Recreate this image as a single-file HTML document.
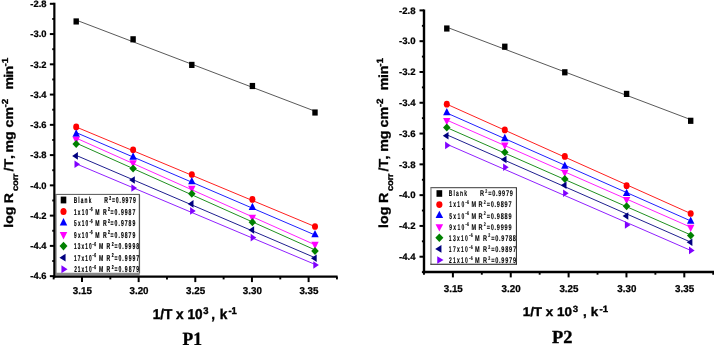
<!DOCTYPE html><html><head><meta charset="utf-8"><style>html,body{margin:0;padding:0;background:#fff}svg{display:block;will-change:transform}text{font-family:"Liberation Sans",sans-serif;font-weight:bold;fill:#000;text-rendering:geometricPrecision}.s{font-family:"Liberation Serif",serif}</style></head><body>
<svg width="714" height="345" viewBox="0 0 714 345">
<rect width="714" height="345" fill="#fff"/>
<line x1="76.20" y1="20.10" x2="315.00" y2="111.20" stroke="#222" stroke-width="0.75"/>
<rect x="73.50" y="18.37" width="5.40" height="6.16" fill="#000"/>
<rect x="130.40" y="36.22" width="5.40" height="6.16" fill="#000"/>
<rect x="189.10" y="61.82" width="5.40" height="6.16" fill="#000"/>
<rect x="249.70" y="82.92" width="5.40" height="6.16" fill="#000"/>
<rect x="312.30" y="109.42" width="5.40" height="6.16" fill="#000"/>
<line x1="76.20" y1="127.00" x2="315.00" y2="226.60" stroke="#ff0000" stroke-width="0.88"/>
<ellipse cx="76.20" cy="126.90" rx="3.00" ry="3.35" fill="#ff0000"/>
<ellipse cx="133.10" cy="149.80" rx="3.00" ry="3.35" fill="#ff0000"/>
<ellipse cx="191.80" cy="174.50" rx="3.00" ry="3.35" fill="#ff0000"/>
<ellipse cx="252.40" cy="199.40" rx="3.00" ry="3.35" fill="#ff0000"/>
<ellipse cx="315.00" cy="226.50" rx="3.00" ry="3.35" fill="#ff0000"/>
<line x1="76.20" y1="132.60" x2="315.00" y2="235.00" stroke="#0000ff" stroke-width="0.88"/>
<polygon points="76.20,129.35 79.90,136.65 72.50,136.65" fill="#0000ff"/>
<polygon points="133.10,152.35 136.80,159.65 129.40,159.65" fill="#0000ff"/>
<polygon points="191.80,176.95 195.50,184.25 188.10,184.25" fill="#0000ff"/>
<polygon points="252.40,202.75 256.10,210.05 248.70,210.05" fill="#0000ff"/>
<polygon points="315.00,230.05 318.70,237.35 311.30,237.35" fill="#0000ff"/>
<line x1="76.20" y1="138.10" x2="315.00" y2="244.80" stroke="#ff00ff" stroke-width="0.88"/>
<polygon points="76.20,144.15 79.90,136.85 72.50,136.85" fill="#ff00ff"/>
<polygon points="133.10,167.65 136.80,160.35 129.40,160.35" fill="#ff00ff"/>
<polygon points="191.80,193.15 195.50,185.85 188.10,185.85" fill="#ff00ff"/>
<polygon points="252.40,221.95 256.10,214.65 248.70,214.65" fill="#ff00ff"/>
<polygon points="315.00,249.15 318.70,241.85 311.30,241.85" fill="#ff00ff"/>
<line x1="76.20" y1="143.10" x2="315.00" y2="249.90" stroke="#008000" stroke-width="0.88"/>
<polygon points="76.20,140.10 79.95,144.10 76.20,148.10 72.45,144.10" fill="#008000"/>
<polygon points="133.10,164.60 136.85,168.60 133.10,172.60 129.35,168.60" fill="#008000"/>
<polygon points="191.80,189.70 195.55,193.70 191.80,197.70 188.05,193.70" fill="#008000"/>
<polygon points="252.40,218.20 256.15,222.20 252.40,226.20 248.65,222.20" fill="#008000"/>
<polygon points="315.00,246.90 318.75,250.90 315.00,254.90 311.25,250.90" fill="#008000"/>
<line x1="76.20" y1="155.40" x2="315.00" y2="257.70" stroke="#000080" stroke-width="0.88"/>
<polygon points="72.20,155.90 77.90,152.10 77.90,159.70" fill="#000080"/>
<polygon points="129.10,180.00 134.80,176.20 134.80,183.80" fill="#000080"/>
<polygon points="187.80,203.90 193.50,200.10 193.50,207.70" fill="#000080"/>
<polygon points="248.40,230.00 254.10,226.20 254.10,233.80" fill="#000080"/>
<polygon points="311.00,258.20 316.70,254.40 316.70,262.00" fill="#000080"/>
<line x1="76.20" y1="163.80" x2="315.00" y2="264.40" stroke="#8000ff" stroke-width="0.88"/>
<polygon points="80.10,164.30 74.50,160.50 74.50,168.10" fill="#8000ff"/>
<polygon points="137.00,188.00 131.40,184.20 131.40,191.80" fill="#8000ff"/>
<polygon points="195.70,210.90 190.10,207.10 190.10,214.70" fill="#8000ff"/>
<polygon points="256.30,237.60 250.70,233.80 250.70,241.40" fill="#8000ff"/>
<polygon points="318.90,265.00 313.30,261.20 313.30,268.80" fill="#8000ff"/>
<rect x="56.80" y="194.90" width="83.30" height="78.60" fill="#8c8c8c"/>
<rect x="56.00" y="194.40" width="83.30" height="78.60" fill="#fff"/>
<line x1="55.50" y1="194.40" x2="139.70" y2="194.40" stroke="#555" stroke-width="1.0"/>
<line x1="56.00" y1="194.40" x2="56.00" y2="273.40" stroke="#8c8c8c" stroke-width="1.4"/>
<line x1="139.30" y1="194.40" x2="139.30" y2="273.40" stroke="#333" stroke-width="0.9"/>
<line x1="55.40" y1="274.20" x2="139.70" y2="274.20" stroke="#8a8a8a" stroke-width="2.7"/>
<clipPath id="c1"><rect x="56.00" y="194.40" width="83.30" height="78.60"/></clipPath>
<g clip-path="url(#c1)">
<rect x="60.71" y="196.60" width="5.59" height="6.80" fill="#000"/>
<g transform="translate(73.81,203.00) scale(0.56,1)"><text font-size="8.5" letter-spacing="2.011" stroke="#000" stroke-width="0.2">Blank</text></g>
<g transform="translate(104.29,203.00) scale(0.6,1)"><text font-size="8.5" letter-spacing="0.000" stroke="#000" stroke-width="0.2">R</text></g>
<g transform="translate(109.30,199.60) scale(0.6,1)"><text font-size="5.7" letter-spacing="0.000" stroke="#000" stroke-width="0.2">2</text></g>
<g transform="translate(112.00,203.00) scale(0.6,1)"><text font-size="8.5" letter-spacing="1.475" stroke="#000" stroke-width="0.2">=0.9979</text></g>
<ellipse cx="63.50" cy="211.53" rx="3.04" ry="3.55" fill="#ff0000"/>
<g transform="translate(73.91,214.53) scale(0.56,1)"><text font-size="8.5" letter-spacing="2.184" stroke="#000" stroke-width="0.2">1x10</text></g>
<g transform="translate(89.40,211.13) scale(0.6,1)"><text font-size="5.7" letter-spacing="0.476" stroke="#000" stroke-width="0.2">-6</text></g>
<g transform="translate(95.19,214.53) scale(0.6,1)"><text font-size="8.5" letter-spacing="0.000" stroke="#000" stroke-width="0.2">M</text></g>
<g transform="translate(102.89,214.53) scale(0.6,1)"><text font-size="8.5" letter-spacing="0.000" stroke="#000" stroke-width="0.2">R</text></g>
<g transform="translate(107.90,211.13) scale(0.6,1)"><text font-size="5.7" letter-spacing="0.000" stroke="#000" stroke-width="0.2">2</text></g>
<g transform="translate(110.60,214.53) scale(0.6,1)"><text font-size="8.5" letter-spacing="1.698" stroke="#000" stroke-width="0.2">=0.9987</text></g>
<polygon points="63.50,218.12 67.22,225.53 59.78,225.53" fill="#0000ff"/>
<g transform="translate(74.06,226.06) scale(0.56,1)"><text font-size="8.5" letter-spacing="2.099" stroke="#000" stroke-width="0.2">5x10</text></g>
<g transform="translate(89.40,222.66) scale(0.6,1)"><text font-size="5.7" letter-spacing="0.476" stroke="#000" stroke-width="0.2">-6</text></g>
<g transform="translate(95.19,226.06) scale(0.6,1)"><text font-size="8.5" letter-spacing="0.000" stroke="#000" stroke-width="0.2">M</text></g>
<g transform="translate(102.89,226.06) scale(0.6,1)"><text font-size="8.5" letter-spacing="0.000" stroke="#000" stroke-width="0.2">R</text></g>
<g transform="translate(107.90,222.66) scale(0.6,1)"><text font-size="5.7" letter-spacing="0.000" stroke="#000" stroke-width="0.2">2</text></g>
<g transform="translate(110.60,226.06) scale(0.6,1)"><text font-size="8.5" letter-spacing="1.698" stroke="#000" stroke-width="0.2">=0.9789</text></g>
<polygon points="63.50,239.53 67.22,232.12 59.78,232.12" fill="#ff00ff"/>
<g transform="translate(74.06,237.59) scale(0.56,1)"><text font-size="8.5" letter-spacing="2.099" stroke="#000" stroke-width="0.2">9x10</text></g>
<g transform="translate(89.40,234.19) scale(0.6,1)"><text font-size="5.7" letter-spacing="0.476" stroke="#000" stroke-width="0.2">-6</text></g>
<g transform="translate(95.19,237.59) scale(0.6,1)"><text font-size="8.5" letter-spacing="0.000" stroke="#000" stroke-width="0.2">M</text></g>
<g transform="translate(102.89,237.59) scale(0.6,1)"><text font-size="8.5" letter-spacing="0.000" stroke="#000" stroke-width="0.2">R</text></g>
<g transform="translate(107.90,234.19) scale(0.6,1)"><text font-size="5.7" letter-spacing="0.000" stroke="#000" stroke-width="0.2">2</text></g>
<g transform="translate(110.60,237.59) scale(0.6,1)"><text font-size="8.5" letter-spacing="1.698" stroke="#000" stroke-width="0.2">=0.9879</text></g>
<polygon points="63.50,241.79 67.47,246.12 63.50,250.45 59.53,246.12" fill="#008000"/>
<g transform="translate(74.01,249.12) scale(0.56,1)"><text font-size="8.5" letter-spacing="1.929" stroke="#000" stroke-width="0.2">13x10</text></g>
<g transform="translate(92.60,245.72) scale(0.6,1)"><text font-size="5.7" letter-spacing="0.809" stroke="#000" stroke-width="0.2">-6</text></g>
<g transform="translate(98.89,249.12) scale(0.6,1)"><text font-size="8.5" letter-spacing="0.000" stroke="#000" stroke-width="0.2">M</text></g>
<g transform="translate(106.59,249.12) scale(0.6,1)"><text font-size="8.5" letter-spacing="0.000" stroke="#000" stroke-width="0.2">R</text></g>
<g transform="translate(111.70,245.72) scale(0.6,1)"><text font-size="5.7" letter-spacing="0.000" stroke="#000" stroke-width="0.2">2</text></g>
<g transform="translate(114.50,249.12) scale(0.6,1)"><text font-size="8.5" letter-spacing="1.683" stroke="#000" stroke-width="0.2">=0.9998</text></g>
<polygon points="59.43,257.65 65.56,253.68 65.56,261.62" fill="#000080"/>
<g transform="translate(74.01,260.65) scale(0.56,1)"><text font-size="8.5" letter-spacing="1.929" stroke="#000" stroke-width="0.2">17x10</text></g>
<g transform="translate(92.60,257.25) scale(0.6,1)"><text font-size="5.7" letter-spacing="0.809" stroke="#000" stroke-width="0.2">-6</text></g>
<g transform="translate(98.89,260.65) scale(0.6,1)"><text font-size="8.5" letter-spacing="0.000" stroke="#000" stroke-width="0.2">M</text></g>
<g transform="translate(106.59,260.65) scale(0.6,1)"><text font-size="8.5" letter-spacing="0.000" stroke="#000" stroke-width="0.2">R</text></g>
<g transform="translate(111.70,257.25) scale(0.6,1)"><text font-size="5.7" letter-spacing="0.000" stroke="#000" stroke-width="0.2">2</text></g>
<g transform="translate(114.50,260.65) scale(0.6,1)"><text font-size="8.5" letter-spacing="1.698" stroke="#000" stroke-width="0.2">=0.9997</text></g>
<polygon points="67.57,269.18 61.44,265.21 61.44,273.15" fill="#8000ff"/>
<g transform="translate(74.16,272.18) scale(0.56,1)"><text font-size="8.5" letter-spacing="1.865" stroke="#000" stroke-width="0.2">21x10</text></g>
<g transform="translate(92.60,268.78) scale(0.6,1)"><text font-size="5.7" letter-spacing="0.809" stroke="#000" stroke-width="0.2">-6</text></g>
<g transform="translate(98.89,272.18) scale(0.6,1)"><text font-size="8.5" letter-spacing="0.000" stroke="#000" stroke-width="0.2">M</text></g>
<g transform="translate(106.59,272.18) scale(0.6,1)"><text font-size="8.5" letter-spacing="0.000" stroke="#000" stroke-width="0.2">R</text></g>
<g transform="translate(111.70,268.78) scale(0.6,1)"><text font-size="5.7" letter-spacing="0.000" stroke="#000" stroke-width="0.2">2</text></g>
<g transform="translate(114.50,272.18) scale(0.6,1)"><text font-size="8.5" letter-spacing="1.698" stroke="#000" stroke-width="0.2">=0.9879</text></g>
</g>
<line x1="54.35" y1="2.80" x2="54.35" y2="277.80" stroke="#000" stroke-width="2.2"/>
<line x1="53.25" y1="276.70" x2="337.60" y2="276.70" stroke="#000" stroke-width="2.2"/>
<line x1="49.85" y1="3.80" x2="54.35" y2="3.80" stroke="#000" stroke-width="2.0"/>
<text transform="translate(46.45,7.15) scale(1,0.99)" font-size="9.4" text-anchor="end" stroke="#000" stroke-width="0.25">-2.8</text>
<line x1="49.85" y1="34.06" x2="54.35" y2="34.06" stroke="#000" stroke-width="2.0"/>
<text transform="translate(46.45,37.41) scale(1,0.99)" font-size="9.4" text-anchor="end" stroke="#000" stroke-width="0.25">-3.0</text>
<line x1="49.85" y1="64.32" x2="54.35" y2="64.32" stroke="#000" stroke-width="2.0"/>
<text transform="translate(46.45,67.67) scale(1,0.99)" font-size="9.4" text-anchor="end" stroke="#000" stroke-width="0.25">-3.2</text>
<line x1="49.85" y1="94.58" x2="54.35" y2="94.58" stroke="#000" stroke-width="2.0"/>
<text transform="translate(46.45,97.93) scale(1,0.99)" font-size="9.4" text-anchor="end" stroke="#000" stroke-width="0.25">-3.4</text>
<line x1="49.85" y1="124.84" x2="54.35" y2="124.84" stroke="#000" stroke-width="2.0"/>
<text transform="translate(46.45,128.19) scale(1,0.99)" font-size="9.4" text-anchor="end" stroke="#000" stroke-width="0.25">-3.6</text>
<line x1="49.85" y1="155.10" x2="54.35" y2="155.10" stroke="#000" stroke-width="2.0"/>
<text transform="translate(46.45,158.45) scale(1,0.99)" font-size="9.4" text-anchor="end" stroke="#000" stroke-width="0.25">-3.8</text>
<line x1="49.85" y1="185.36" x2="54.35" y2="185.36" stroke="#000" stroke-width="2.0"/>
<text transform="translate(46.45,188.71) scale(1,0.99)" font-size="9.4" text-anchor="end" stroke="#000" stroke-width="0.25">-4.0</text>
<line x1="49.85" y1="215.62" x2="54.35" y2="215.62" stroke="#000" stroke-width="2.0"/>
<text transform="translate(46.45,218.97) scale(1,0.99)" font-size="9.4" text-anchor="end" stroke="#000" stroke-width="0.25">-4.2</text>
<line x1="49.85" y1="245.88" x2="54.35" y2="245.88" stroke="#000" stroke-width="2.0"/>
<text transform="translate(46.45,249.23) scale(1,0.99)" font-size="9.4" text-anchor="end" stroke="#000" stroke-width="0.25">-4.4</text>
<line x1="49.85" y1="276.14" x2="54.35" y2="276.14" stroke="#000" stroke-width="2.0"/>
<text transform="translate(46.45,279.49) scale(1,0.99)" font-size="9.4" text-anchor="end" stroke="#000" stroke-width="0.25">-4.6</text>
<line x1="52.25" y1="18.93" x2="54.35" y2="18.93" stroke="#000" stroke-width="1.9"/>
<line x1="52.25" y1="49.19" x2="54.35" y2="49.19" stroke="#000" stroke-width="1.9"/>
<line x1="52.25" y1="79.45" x2="54.35" y2="79.45" stroke="#000" stroke-width="1.9"/>
<line x1="52.25" y1="109.71" x2="54.35" y2="109.71" stroke="#000" stroke-width="1.9"/>
<line x1="52.25" y1="139.97" x2="54.35" y2="139.97" stroke="#000" stroke-width="1.9"/>
<line x1="52.25" y1="170.23" x2="54.35" y2="170.23" stroke="#000" stroke-width="1.9"/>
<line x1="52.25" y1="200.49" x2="54.35" y2="200.49" stroke="#000" stroke-width="1.9"/>
<line x1="52.25" y1="230.75" x2="54.35" y2="230.75" stroke="#000" stroke-width="1.9"/>
<line x1="52.25" y1="261.01" x2="54.35" y2="261.01" stroke="#000" stroke-width="1.9"/>
<line x1="82.00" y1="276.70" x2="82.00" y2="282.10" stroke="#000" stroke-width="2.0"/>
<text transform="translate(82.35,294.40) scale(1,1.02)" font-size="9.8" text-anchor="middle" stroke="#000" stroke-width="0.25">3.15</text>
<line x1="138.65" y1="276.70" x2="138.65" y2="282.10" stroke="#000" stroke-width="2.0"/>
<text transform="translate(139.00,294.40) scale(1,1.02)" font-size="9.8" text-anchor="middle" stroke="#000" stroke-width="0.25">3.20</text>
<line x1="195.30" y1="276.70" x2="195.30" y2="282.10" stroke="#000" stroke-width="2.0"/>
<text transform="translate(195.65,294.40) scale(1,1.02)" font-size="9.8" text-anchor="middle" stroke="#000" stroke-width="0.25">3.25</text>
<line x1="251.95" y1="276.70" x2="251.95" y2="282.10" stroke="#000" stroke-width="2.0"/>
<text transform="translate(252.30,294.40) scale(1,1.02)" font-size="9.8" text-anchor="middle" stroke="#000" stroke-width="0.25">3.30</text>
<line x1="308.60" y1="276.70" x2="308.60" y2="282.10" stroke="#000" stroke-width="2.0"/>
<text transform="translate(308.95,294.40) scale(1,1.02)" font-size="9.8" text-anchor="middle" stroke="#000" stroke-width="0.25">3.35</text>
<line x1="53.67" y1="276.70" x2="53.67" y2="279.40" stroke="#000" stroke-width="1.9"/>
<line x1="110.33" y1="276.70" x2="110.33" y2="279.40" stroke="#000" stroke-width="1.9"/>
<line x1="166.97" y1="276.70" x2="166.97" y2="279.40" stroke="#000" stroke-width="1.9"/>
<line x1="223.62" y1="276.70" x2="223.62" y2="279.40" stroke="#000" stroke-width="1.9"/>
<line x1="280.27" y1="276.70" x2="280.27" y2="279.40" stroke="#000" stroke-width="1.9"/>
<line x1="336.92" y1="276.70" x2="336.92" y2="279.40" stroke="#000" stroke-width="1.9"/>
<text transform="translate(152.70,319.20) scale(1,1.05)" font-size="13.6" text-anchor="start" stroke="#000" stroke-width="0.4">1/T x 10<tspan dy="-4.8" font-size="9.4" dx="0.8">3</tspan><tspan dy="4.8" dx="-1.2"> ,</tspan><tspan dx="1.0"> k</tspan><tspan dy="-4.8" font-size="9.4" dx="1.2">-1</tspan></text>
<text class="s" transform="translate(182.60,345.00) scale(1,1.06)" font-size="17.5" text-anchor="start" stroke="#000" stroke-width="0.35">P1</text>
<text transform="translate(12.60,227.70) rotate(-90) scale(1,0.89)" font-size="14.13" text-anchor="start" stroke="#000" stroke-width="0.35">log<tspan x="24.4">R</tspan><tspan x="36.8" dy="6.07" font-size="9.6" letter-spacing="-0.39">corr</tspan><tspan x="56.3" dy="-6.07">/T</tspan><tspan x="68.8">,</tspan><tspan x="75.15">mg</tspan><tspan x="100.26">cm</tspan><tspan x="120.2" dy="-5.0" font-size="9.9">-2</tspan><tspan x="138.1" dy="5.0" letter-spacing="-0.65">min</tspan><tspan x="161.1" dy="-5.0" font-size="9.9">-1</tspan></text>
<line x1="446.80" y1="27.20" x2="690.70" y2="119.60" stroke="#222" stroke-width="0.75"/>
<rect x="444.10" y="25.42" width="5.40" height="6.16" fill="#000"/>
<rect x="502.10" y="43.62" width="5.40" height="6.16" fill="#000"/>
<rect x="562.10" y="69.22" width="5.40" height="6.16" fill="#000"/>
<rect x="623.90" y="90.82" width="5.40" height="6.16" fill="#000"/>
<rect x="688.00" y="117.72" width="5.40" height="6.16" fill="#000"/>
<line x1="446.80" y1="104.20" x2="690.70" y2="213.50" stroke="#ff0000" stroke-width="0.88"/>
<ellipse cx="446.80" cy="104.20" rx="3.00" ry="3.35" fill="#ff0000"/>
<ellipse cx="504.80" cy="129.90" rx="3.00" ry="3.35" fill="#ff0000"/>
<ellipse cx="564.80" cy="156.40" rx="3.00" ry="3.35" fill="#ff0000"/>
<ellipse cx="626.60" cy="185.70" rx="3.00" ry="3.35" fill="#ff0000"/>
<ellipse cx="690.70" cy="213.50" rx="3.00" ry="3.35" fill="#ff0000"/>
<line x1="446.80" y1="113.00" x2="690.70" y2="220.90" stroke="#0000ff" stroke-width="0.88"/>
<polygon points="446.80,108.05 450.50,115.35 443.10,115.35" fill="#0000ff"/>
<polygon points="504.80,133.85 508.50,141.15 501.10,141.15" fill="#0000ff"/>
<polygon points="564.80,161.45 568.50,168.75 561.10,168.75" fill="#0000ff"/>
<polygon points="626.60,188.65 630.30,195.95 622.90,195.95" fill="#0000ff"/>
<polygon points="690.70,216.45 694.40,223.75 687.00,223.75" fill="#0000ff"/>
<line x1="446.80" y1="120.10" x2="690.70" y2="227.20" stroke="#ff00ff" stroke-width="0.88"/>
<polygon points="446.80,125.35 450.50,118.05 443.10,118.05" fill="#ff00ff"/>
<polygon points="504.80,149.85 508.50,142.55 501.10,142.55" fill="#ff00ff"/>
<polygon points="564.80,177.05 568.50,169.75 561.10,169.75" fill="#ff00ff"/>
<polygon points="626.60,204.35 630.30,197.05 622.90,197.05" fill="#ff00ff"/>
<polygon points="690.70,232.05 694.40,224.75 687.00,224.75" fill="#ff00ff"/>
<line x1="446.80" y1="127.60" x2="690.70" y2="234.90" stroke="#008000" stroke-width="0.88"/>
<polygon points="446.80,123.60 450.55,127.60 446.80,131.60 443.05,127.60" fill="#008000"/>
<polygon points="504.80,148.20 508.55,152.20 504.80,156.20 501.05,152.20" fill="#008000"/>
<polygon points="564.80,175.00 568.55,179.00 564.80,183.00 561.05,179.00" fill="#008000"/>
<polygon points="626.60,202.30 630.35,206.30 626.60,210.30 622.85,206.30" fill="#008000"/>
<polygon points="690.70,231.60 694.45,235.60 690.70,239.60 686.95,235.60" fill="#008000"/>
<line x1="446.80" y1="134.80" x2="690.70" y2="242.10" stroke="#000080" stroke-width="0.88"/>
<polygon points="442.80,135.70 448.50,131.90 448.50,139.50" fill="#000080"/>
<polygon points="500.80,159.50 506.50,155.70 506.50,163.30" fill="#000080"/>
<polygon points="560.80,185.20 566.50,181.40 566.50,189.00" fill="#000080"/>
<polygon points="622.60,216.00 628.30,212.20 628.30,219.80" fill="#000080"/>
<polygon points="686.70,242.30 692.40,238.50 692.40,246.10" fill="#000080"/>
<line x1="446.80" y1="144.20" x2="690.70" y2="250.40" stroke="#8000ff" stroke-width="0.88"/>
<polygon points="450.70,145.40 445.10,141.60 445.10,149.20" fill="#8000ff"/>
<polygon points="508.70,167.20 503.10,163.40 503.10,171.00" fill="#8000ff"/>
<polygon points="568.70,193.30 563.10,189.50 563.10,197.10" fill="#8000ff"/>
<polygon points="630.50,224.90 624.90,221.10 624.90,228.70" fill="#8000ff"/>
<polygon points="694.60,250.40 689.00,246.60 689.00,254.20" fill="#8000ff"/>
<rect x="430.95" y="187.65" width="85.45" height="76.55" fill="#fff"/>
<line x1="430.45" y1="187.65" x2="516.80" y2="187.65" stroke="#606060" stroke-width="1.1"/>
<line x1="430.95" y1="187.65" x2="430.95" y2="264.60" stroke="#909090" stroke-width="1.4"/>
<line x1="516.40" y1="187.65" x2="516.40" y2="264.60" stroke="#222" stroke-width="1.0"/>
<line x1="430.35" y1="264.20" x2="516.80" y2="264.20" stroke="#1a1a1a" stroke-width="1.1"/>
<clipPath id="c2"><rect x="430.95" y="187.65" width="85.45" height="76.55"/></clipPath>
<g clip-path="url(#c2)">
<rect x="436.50" y="190.20" width="5.70" height="6.60" fill="#000"/>
<g transform="translate(448.80,196.40) scale(0.6,1)"><text font-size="8.3" letter-spacing="1.924" stroke="#000" stroke-width="0.12">Blank</text></g>
<g transform="translate(479.97,196.40) scale(0.67,1)"><text font-size="8.3" letter-spacing="0.000" stroke="#000" stroke-width="0.12">R</text></g>
<g transform="translate(485.29,193.10) scale(0.67,1)"><text font-size="5.4" letter-spacing="0.000" stroke="#000" stroke-width="0.12">2</text></g>
<g transform="translate(488.18,196.40) scale(0.67,1)"><text font-size="8.3" letter-spacing="1.086" stroke="#000" stroke-width="0.12">=0.9979</text></g>
<ellipse cx="439.35" cy="204.58" rx="3.10" ry="3.45" fill="#ff0000"/>
<g transform="translate(449.20,207.48) scale(0.6,1)"><text font-size="8.3" letter-spacing="2.167" stroke="#000" stroke-width="0.12">1x10</text></g>
<g transform="translate(465.49,204.18) scale(0.67,1)"><text font-size="5.4" letter-spacing="0.332" stroke="#000" stroke-width="0.12">-6</text></g>
<g transform="translate(471.47,207.48) scale(0.67,1)"><text font-size="8.3" letter-spacing="0.000" stroke="#000" stroke-width="0.12">M</text></g>
<g transform="translate(478.57,207.48) scale(0.67,1)"><text font-size="8.3" letter-spacing="0.000" stroke="#000" stroke-width="0.12">R</text></g>
<g transform="translate(483.79,204.18) scale(0.67,1)"><text font-size="5.4" letter-spacing="0.000" stroke="#000" stroke-width="0.12">2</text></g>
<g transform="translate(486.68,207.48) scale(0.67,1)"><text font-size="8.3" letter-spacing="1.136" stroke="#000" stroke-width="0.12">=0.9897</text></g>
<polygon points="439.35,210.86 443.15,218.06 435.55,218.06" fill="#0000ff"/>
<g transform="translate(449.35,218.56) scale(0.6,1)"><text font-size="8.3" letter-spacing="2.084" stroke="#000" stroke-width="0.12">5x10</text></g>
<g transform="translate(465.49,215.26) scale(0.67,1)"><text font-size="5.4" letter-spacing="0.332" stroke="#000" stroke-width="0.12">-6</text></g>
<g transform="translate(471.47,218.56) scale(0.67,1)"><text font-size="8.3" letter-spacing="0.000" stroke="#000" stroke-width="0.12">M</text></g>
<g transform="translate(478.57,218.56) scale(0.67,1)"><text font-size="8.3" letter-spacing="0.000" stroke="#000" stroke-width="0.12">R</text></g>
<g transform="translate(483.79,215.26) scale(0.67,1)"><text font-size="5.4" letter-spacing="0.000" stroke="#000" stroke-width="0.12">2</text></g>
<g transform="translate(486.68,218.56) scale(0.67,1)"><text font-size="8.3" letter-spacing="1.136" stroke="#000" stroke-width="0.12">=0.9889</text></g>
<polygon points="439.35,231.54 443.15,224.34 435.55,224.34" fill="#ff00ff"/>
<g transform="translate(449.35,229.64) scale(0.6,1)"><text font-size="8.3" letter-spacing="2.084" stroke="#000" stroke-width="0.12">9x10</text></g>
<g transform="translate(465.49,226.34) scale(0.67,1)"><text font-size="5.4" letter-spacing="0.332" stroke="#000" stroke-width="0.12">-6</text></g>
<g transform="translate(471.47,229.64) scale(0.67,1)"><text font-size="8.3" letter-spacing="0.000" stroke="#000" stroke-width="0.12">M</text></g>
<g transform="translate(478.57,229.64) scale(0.67,1)"><text font-size="8.3" letter-spacing="0.000" stroke="#000" stroke-width="0.12">R</text></g>
<g transform="translate(483.79,226.34) scale(0.67,1)"><text font-size="5.4" letter-spacing="0.000" stroke="#000" stroke-width="0.12">2</text></g>
<g transform="translate(486.68,229.64) scale(0.67,1)"><text font-size="8.3" letter-spacing="1.136" stroke="#000" stroke-width="0.12">=0.9999</text></g>
<polygon points="439.35,233.62 443.40,237.82 439.35,242.02 435.30,237.82" fill="#008000"/>
<g transform="translate(448.80,240.72) scale(0.6,1)"><text font-size="8.3" letter-spacing="2.179" stroke="#000" stroke-width="0.12">13x10</text></g>
<g transform="translate(469.19,237.42) scale(0.67,1)"><text font-size="5.4" letter-spacing="0.481" stroke="#000" stroke-width="0.12">-6</text></g>
<g transform="translate(475.07,240.72) scale(0.67,1)"><text font-size="8.3" letter-spacing="0.000" stroke="#000" stroke-width="0.12">M</text></g>
<g transform="translate(483.07,240.72) scale(0.67,1)"><text font-size="8.3" letter-spacing="0.000" stroke="#000" stroke-width="0.12">R</text></g>
<g transform="translate(488.29,237.42) scale(0.67,1)"><text font-size="5.4" letter-spacing="0.000" stroke="#000" stroke-width="0.12">2</text></g>
<g transform="translate(491.18,240.72) scale(0.67,1)"><text font-size="8.3" letter-spacing="1.122" stroke="#000" stroke-width="0.12">=0.9788</text></g>
<polygon points="435.20,248.90 441.45,245.05 441.45,252.75" fill="#000080"/>
<g transform="translate(448.80,251.80) scale(0.6,1)"><text font-size="8.3" letter-spacing="2.179" stroke="#000" stroke-width="0.12">17x10</text></g>
<g transform="translate(469.19,248.50) scale(0.67,1)"><text font-size="5.4" letter-spacing="0.481" stroke="#000" stroke-width="0.12">-6</text></g>
<g transform="translate(475.07,251.80) scale(0.67,1)"><text font-size="8.3" letter-spacing="0.000" stroke="#000" stroke-width="0.12">M</text></g>
<g transform="translate(483.07,251.80) scale(0.67,1)"><text font-size="8.3" letter-spacing="0.000" stroke="#000" stroke-width="0.12">R</text></g>
<g transform="translate(488.29,248.50) scale(0.67,1)"><text font-size="5.4" letter-spacing="0.000" stroke="#000" stroke-width="0.12">2</text></g>
<g transform="translate(491.18,251.80) scale(0.67,1)"><text font-size="8.3" letter-spacing="1.136" stroke="#000" stroke-width="0.12">=0.9897</text></g>
<polygon points="443.50,259.98 437.25,256.13 437.25,263.83" fill="#8000ff"/>
<g transform="translate(448.95,262.88) scale(0.6,1)"><text font-size="8.3" letter-spacing="2.117" stroke="#000" stroke-width="0.12">21x10</text></g>
<g transform="translate(469.19,259.58) scale(0.67,1)"><text font-size="5.4" letter-spacing="0.481" stroke="#000" stroke-width="0.12">-6</text></g>
<g transform="translate(475.07,262.88) scale(0.67,1)"><text font-size="8.3" letter-spacing="0.000" stroke="#000" stroke-width="0.12">M</text></g>
<g transform="translate(483.07,262.88) scale(0.67,1)"><text font-size="8.3" letter-spacing="0.000" stroke="#000" stroke-width="0.12">R</text></g>
<g transform="translate(488.29,259.58) scale(0.67,1)"><text font-size="5.4" letter-spacing="0.000" stroke="#000" stroke-width="0.12">2</text></g>
<g transform="translate(491.18,262.88) scale(0.67,1)"><text font-size="8.3" letter-spacing="1.136" stroke="#000" stroke-width="0.12">=0.9979</text></g>
</g>
<line x1="424.00" y1="9.40" x2="424.00" y2="273.20" stroke="#000" stroke-width="2.4"/>
<line x1="422.80" y1="272.00" x2="714.00" y2="272.00" stroke="#000" stroke-width="2.4"/>
<line x1="419.50" y1="10.40" x2="424.00" y2="10.40" stroke="#000" stroke-width="2.0"/>
<text transform="translate(415.60,13.70) scale(1,0.975)" font-size="9.6" text-anchor="end" stroke="#000" stroke-width="0.25">-2.8</text>
<line x1="419.50" y1="41.19" x2="424.00" y2="41.19" stroke="#000" stroke-width="2.0"/>
<text transform="translate(415.60,44.49) scale(1,0.975)" font-size="9.6" text-anchor="end" stroke="#000" stroke-width="0.25">-3.0</text>
<line x1="419.50" y1="71.98" x2="424.00" y2="71.98" stroke="#000" stroke-width="2.0"/>
<text transform="translate(415.60,75.28) scale(1,0.975)" font-size="9.6" text-anchor="end" stroke="#000" stroke-width="0.25">-3.2</text>
<line x1="419.50" y1="102.77" x2="424.00" y2="102.77" stroke="#000" stroke-width="2.0"/>
<text transform="translate(415.60,106.07) scale(1,0.975)" font-size="9.6" text-anchor="end" stroke="#000" stroke-width="0.25">-3.4</text>
<line x1="419.50" y1="133.56" x2="424.00" y2="133.56" stroke="#000" stroke-width="2.0"/>
<text transform="translate(415.60,136.86) scale(1,0.975)" font-size="9.6" text-anchor="end" stroke="#000" stroke-width="0.25">-3.6</text>
<line x1="419.50" y1="164.35" x2="424.00" y2="164.35" stroke="#000" stroke-width="2.0"/>
<text transform="translate(415.60,167.65) scale(1,0.975)" font-size="9.6" text-anchor="end" stroke="#000" stroke-width="0.25">-3.8</text>
<line x1="419.50" y1="195.14" x2="424.00" y2="195.14" stroke="#000" stroke-width="2.0"/>
<text transform="translate(415.60,198.44) scale(1,0.975)" font-size="9.6" text-anchor="end" stroke="#000" stroke-width="0.25">-4.0</text>
<line x1="419.50" y1="225.93" x2="424.00" y2="225.93" stroke="#000" stroke-width="2.0"/>
<text transform="translate(415.60,229.23) scale(1,0.975)" font-size="9.6" text-anchor="end" stroke="#000" stroke-width="0.25">-4.2</text>
<line x1="419.50" y1="256.72" x2="424.00" y2="256.72" stroke="#000" stroke-width="2.0"/>
<text transform="translate(415.60,260.02) scale(1,0.975)" font-size="9.6" text-anchor="end" stroke="#000" stroke-width="0.25">-4.4</text>
<line x1="421.90" y1="25.80" x2="424.00" y2="25.80" stroke="#000" stroke-width="1.9"/>
<line x1="421.90" y1="56.59" x2="424.00" y2="56.59" stroke="#000" stroke-width="1.9"/>
<line x1="421.90" y1="87.38" x2="424.00" y2="87.38" stroke="#000" stroke-width="1.9"/>
<line x1="421.90" y1="118.17" x2="424.00" y2="118.17" stroke="#000" stroke-width="1.9"/>
<line x1="421.90" y1="148.96" x2="424.00" y2="148.96" stroke="#000" stroke-width="1.9"/>
<line x1="421.90" y1="179.75" x2="424.00" y2="179.75" stroke="#000" stroke-width="1.9"/>
<line x1="421.90" y1="210.53" x2="424.00" y2="210.53" stroke="#000" stroke-width="1.9"/>
<line x1="421.90" y1="241.32" x2="424.00" y2="241.32" stroke="#000" stroke-width="1.9"/>
<line x1="421.90" y1="272.11" x2="424.00" y2="272.11" stroke="#000" stroke-width="1.9"/>
<line x1="452.90" y1="272.00" x2="452.90" y2="277.40" stroke="#000" stroke-width="2.0"/>
<text transform="translate(453.25,292.20) scale(1,1.02)" font-size="9.8" text-anchor="middle" stroke="#000" stroke-width="0.25">3.15</text>
<line x1="510.75" y1="272.00" x2="510.75" y2="277.40" stroke="#000" stroke-width="2.0"/>
<text transform="translate(511.10,292.20) scale(1,1.02)" font-size="9.8" text-anchor="middle" stroke="#000" stroke-width="0.25">3.20</text>
<line x1="568.60" y1="272.00" x2="568.60" y2="277.40" stroke="#000" stroke-width="2.0"/>
<text transform="translate(568.95,292.20) scale(1,1.02)" font-size="9.8" text-anchor="middle" stroke="#000" stroke-width="0.25">3.25</text>
<line x1="626.45" y1="272.00" x2="626.45" y2="277.40" stroke="#000" stroke-width="2.0"/>
<text transform="translate(626.80,292.20) scale(1,1.02)" font-size="9.8" text-anchor="middle" stroke="#000" stroke-width="0.25">3.30</text>
<line x1="684.30" y1="272.00" x2="684.30" y2="277.40" stroke="#000" stroke-width="2.0"/>
<text transform="translate(684.65,292.20) scale(1,1.02)" font-size="9.8" text-anchor="middle" stroke="#000" stroke-width="0.25">3.35</text>
<line x1="423.97" y1="272.00" x2="423.97" y2="274.70" stroke="#000" stroke-width="1.9"/>
<line x1="481.82" y1="272.00" x2="481.82" y2="274.70" stroke="#000" stroke-width="1.9"/>
<line x1="539.67" y1="272.00" x2="539.67" y2="274.70" stroke="#000" stroke-width="1.9"/>
<line x1="597.52" y1="272.00" x2="597.52" y2="274.70" stroke="#000" stroke-width="1.9"/>
<line x1="655.38" y1="272.00" x2="655.38" y2="274.70" stroke="#000" stroke-width="1.9"/>
<line x1="713.22" y1="272.00" x2="713.22" y2="274.70" stroke="#000" stroke-width="1.9"/>
<text transform="translate(522.70,316.30) scale(1,0.94)" font-size="13.4" text-anchor="start" stroke="#000" stroke-width="0.4">1/T x 10<tspan dy="-4.6" font-size="9.6" dx="0.8">3</tspan><tspan dy="4.6" dx="1.3"> ,</tspan><tspan dx="0.4"> k</tspan><tspan dy="-4.6" font-size="9.6" dx="1.2">-1</tspan></text>
<text class="s" transform="translate(551.90,342.60)" font-size="18.4" text-anchor="start" stroke="#000" stroke-width="0.35">P2</text>
<text transform="translate(387.90,227.90) rotate(-90) scale(1,0.925)" font-size="14.18" text-anchor="start" stroke="#000" stroke-width="0.35">log<tspan x="25.0">R</tspan><tspan x="36.95" dy="5.6" font-size="9.6" letter-spacing="-0.39">corr</tspan><tspan x="56.5" dy="-5.6">/T</tspan><tspan x="68.4">,</tspan><tspan x="76.1">mg</tspan><tspan x="100.5">cm</tspan><tspan x="120.6" dy="-4.9" font-size="9.9">-2</tspan><tspan x="137.7" dy="4.9" letter-spacing="-0.3">min</tspan><tspan x="161.2" dy="-4.9" font-size="9.9">-1</tspan></text>
</svg></body></html>
